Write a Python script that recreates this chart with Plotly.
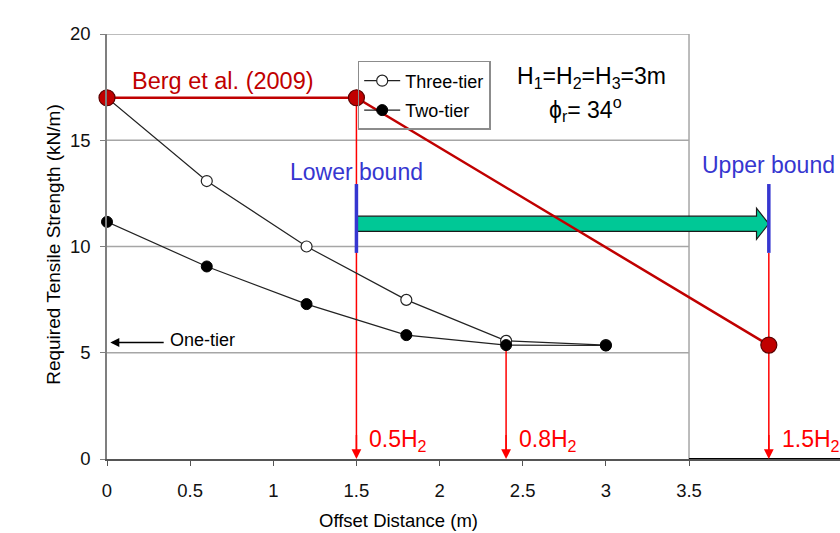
import plotly.graph_objects as go

# ---- data ----
offset_three = [0, 0.6, 1.2, 1.8, 2.4, 3.0]
three_tier = [17.0, 13.08, 10.0, 7.49, 5.56, 5.36]
offset_two = [0, 0.6, 1.2, 1.8, 2.4, 3.0]
two_tier = [11.16, 9.06, 7.29, 5.83, 5.36, 5.34]
berg_x = [0, 1.5, 3.98]          # last point drawn at 1.5H2 (axis break)
berg_y = [17.0, 17.0, 5.36]
one_tier_value = 5.48
mark_x = [1.5, 2.4, 3.98]        # 0.5H2, 0.8H2, 1.5H2
mark_top = [17.0, 5.36, 9.7]
mark_labels = ["0.5H<sub>2</sub>", "0.8H<sub>2</sub>", "1.5H<sub>2</sub>"]
bound_x = [1.5, 3.98]
bound_lo, bound_hi = 9.7, 12.94
bound_labels = ["Lower bound", "Upper bound"]
arrow_y, arrow_half, head_half, head_len = 11.07, 0.355, 0.73, 0.074
x_ticks = [0, 0.5, 1, 1.5, 2, 2.5, 3, 3.5]
y_ticks = [0, 5, 10, 15, 20]
x_axis_end = 3.5

FONT = "Liberation Sans, Arial, sans-serif"
DARKRED = "#C00000"
RED = "#FF0000"
BLUE = "#3636D0"
GRID = "#A6A6A6"

fig = go.Figure()

# gridlines / box (limited to 0..3.5)
shapes = []
for yv in y_ticks[1:]:
    shapes.append(dict(type="line", xref="x", yref="y", x0=0, x1=x_axis_end, y0=yv, y1=yv,
                       line=dict(color=GRID, width=1.5), layer="below"))
shapes.append(dict(type="line", xref="x", yref="y", x0=x_axis_end, x1=x_axis_end, y0=0, y1=20,
                   line=dict(color=GRID, width=1.5), layer="below"))
# red vertical lines
for xv, yt in zip(mark_x, mark_top):
    shapes.append(dict(type="line", xref="x", yref="y", x0=xv, x1=xv, y0=0.3, y1=yt,
                       line=dict(color=RED, width=1.5), layer="below"))
# green arrow
x0, x1 = bound_x
path = (f"M {x0},{arrow_y - arrow_half} L {x1 - head_len},{arrow_y - arrow_half} "
        f"L {x1 - head_len},{arrow_y - head_half} L {x1},{arrow_y} "
        f"L {x1 - head_len},{arrow_y + head_half} L {x1 - head_len},{arrow_y + arrow_half} "
        f"L {x0},{arrow_y + arrow_half} Z")
shapes.append(dict(type="path", xref="x", yref="y", path=path, fillcolor="#00C896",
                   line=dict(color="#1a1a1a", width=1.2), layer="below"))
# blue bound lines
for xv in bound_x:
    shapes.append(dict(type="line", xref="x", yref="y", x0=xv, x1=xv, y0=bound_lo, y1=bound_hi,
                       line=dict(color=BLUE, width=3.5), layer="above"))
# thick black baseline beyond 3.5
shapes.append(dict(type="line", xref="x", yref="y", x0=x_axis_end, x1=4.41, y0=0, y1=0,
                   line=dict(color="black", width=2.2), layer="above"))

fig.add_trace(go.Scatter(x=offset_three, y=three_tier, mode="lines+markers", name="Three-tier",
                         legendgroup="a", cliponaxis=False,
                         line=dict(color="#222", width=1.2),
                         marker=dict(symbol="circle", size=11, color="white",
                                     line=dict(color="#222", width=1.2))))
fig.add_trace(go.Scatter(x=offset_two, y=two_tier, mode="lines+markers", name="Two-tier",
                         legendgroup="b", cliponaxis=False,
                         line=dict(color="#222", width=1.2),
                         marker=dict(symbol="circle", size=11, color="black",
                                     line=dict(color="black", width=1))))
fig.add_trace(go.Scatter(x=berg_x, y=berg_y, mode="lines+markers", showlegend=False,
                         cliponaxis=False,
                         line=dict(color=DARKRED, width=2.5),
                         marker=dict(size=16, color=DARKRED, line=dict(color="#5a0000", width=1.2))))

ann = []
# arrowheads at the bottom
for xv in mark_x:
    ann.append(dict(x=xv, y=0, ax=xv, ay=1.2, xref="x", yref="y", axref="x", ayref="y",
                    text="", showarrow=True, arrowhead=2, arrowsize=1.3, arrowwidth=1.5,
                    arrowcolor=RED, standoff=0))
for xv, lab in zip(mark_x, mark_labels):
    ann.append(dict(x=xv + 0.065, y=0.85, xref="x", yref="y", text=lab, showarrow=False,
                    xanchor="left", yanchor="middle", font=dict(size=23, color=RED, family=FONT)))
for xv, lab, yv in zip(bound_x, bound_labels, [13.5, 13.84]):
    ann.append(dict(x=xv, y=yv, xref="x", yref="y", text=lab, showarrow=False,
                    xanchor="center", yanchor="middle", font=dict(size=23, color=BLUE, family=FONT)))
ann.append(dict(x=0.70, y=17.78, xref="x", yref="y", text="Berg et al. (2009)", showarrow=False,
                font=dict(size=23.5, color=DARKRED, family=FONT)))
ann.append(dict(x=2.913, y=17.95, xref="x", yref="y",
                text="H<sub>1</sub>=H<sub>2</sub>=H<sub>3</sub>=3m", showarrow=False,
                font=dict(size=23, color="black", family=FONT)))
ann.append(dict(x=2.875, y=16.45, xref="x", yref="y",
                text="ϕ<sub>r</sub>= 34<sup>o</sup>", showarrow=False,
                font=dict(size=23, color="black", family=FONT)))
# one-tier
ann.append(dict(x=0.02, y=one_tier_value, ax=0.35, ay=one_tier_value, xref="x", yref="y",
                axref="x", ayref="y", text="", showarrow=True, arrowhead=2, arrowsize=1.2,
                arrowwidth=1.5, arrowcolor="black", standoff=0))
ann.append(dict(x=0.365, y=one_tier_value + 0.1, xref="x", yref="y", text="One-tier", showarrow=False,
                xanchor="left", yanchor="middle", font=dict(size=18, color="black", family=FONT)))
# axis titles
ann.append(dict(x=1.75, y=-0.145, xref="x", yref="paper", text="Offset Distance (m)",
                showarrow=False, yanchor="middle", font=dict(size=18.5, color="black", family=FONT)))
ann.append(dict(x=-0.0723, y=0.504, xref="paper", yref="paper", text="Required Tensile Strength (kN/m)",
                showarrow=False, textangle=-90, xanchor="center", yanchor="middle",
                font=dict(size=19, color="black", family=FONT)))

fig.update_layout(
    width=840, height=533,
    margin=dict(l=107, r=0, t=34, b=74),
    paper_bgcolor="white", plot_bgcolor="white",
    font=dict(family=FONT, size=18, color="black"),
    shapes=shapes, annotations=ann,
    showlegend=True,
    legend=dict(x=0.342, y=0.9365, xanchor="left", yanchor="top",
                bgcolor="rgba(0,0,0,0)", bordercolor="#8c8c8c", borderwidth=1.5,
                font=dict(size=18, family=FONT), traceorder="grouped", tracegroupgap=3,
                itemwidth=36),
    xaxis=dict(range=[0, 4.408], tickvals=x_ticks, ticktext=[f"{v:g}" for v in x_ticks],
               showgrid=False, zeroline=False, showline=True, linecolor="#555", linewidth=1.5,
               ticks="outside", ticklen=5, tickcolor="#555", tickwidth=1.2,
               ticklabelstandoff=9, automargin=False, fixedrange=True,
               tickfont=dict(size=18.5, color="#111")),
    yaxis=dict(range=[0, 20], tickvals=y_ticks, showgrid=False, zeroline=False,
               showline=True, linecolor="#7f7f7f", linewidth=1.5,
               ticks="outside", ticklen=5, tickcolor="#7f7f7f", tickwidth=1.2,
               ticklabelstandoff=6, automargin=False, fixedrange=True,
               tickfont=dict(size=18.5, color="#111")),
)

fig.write_html("out.html")
